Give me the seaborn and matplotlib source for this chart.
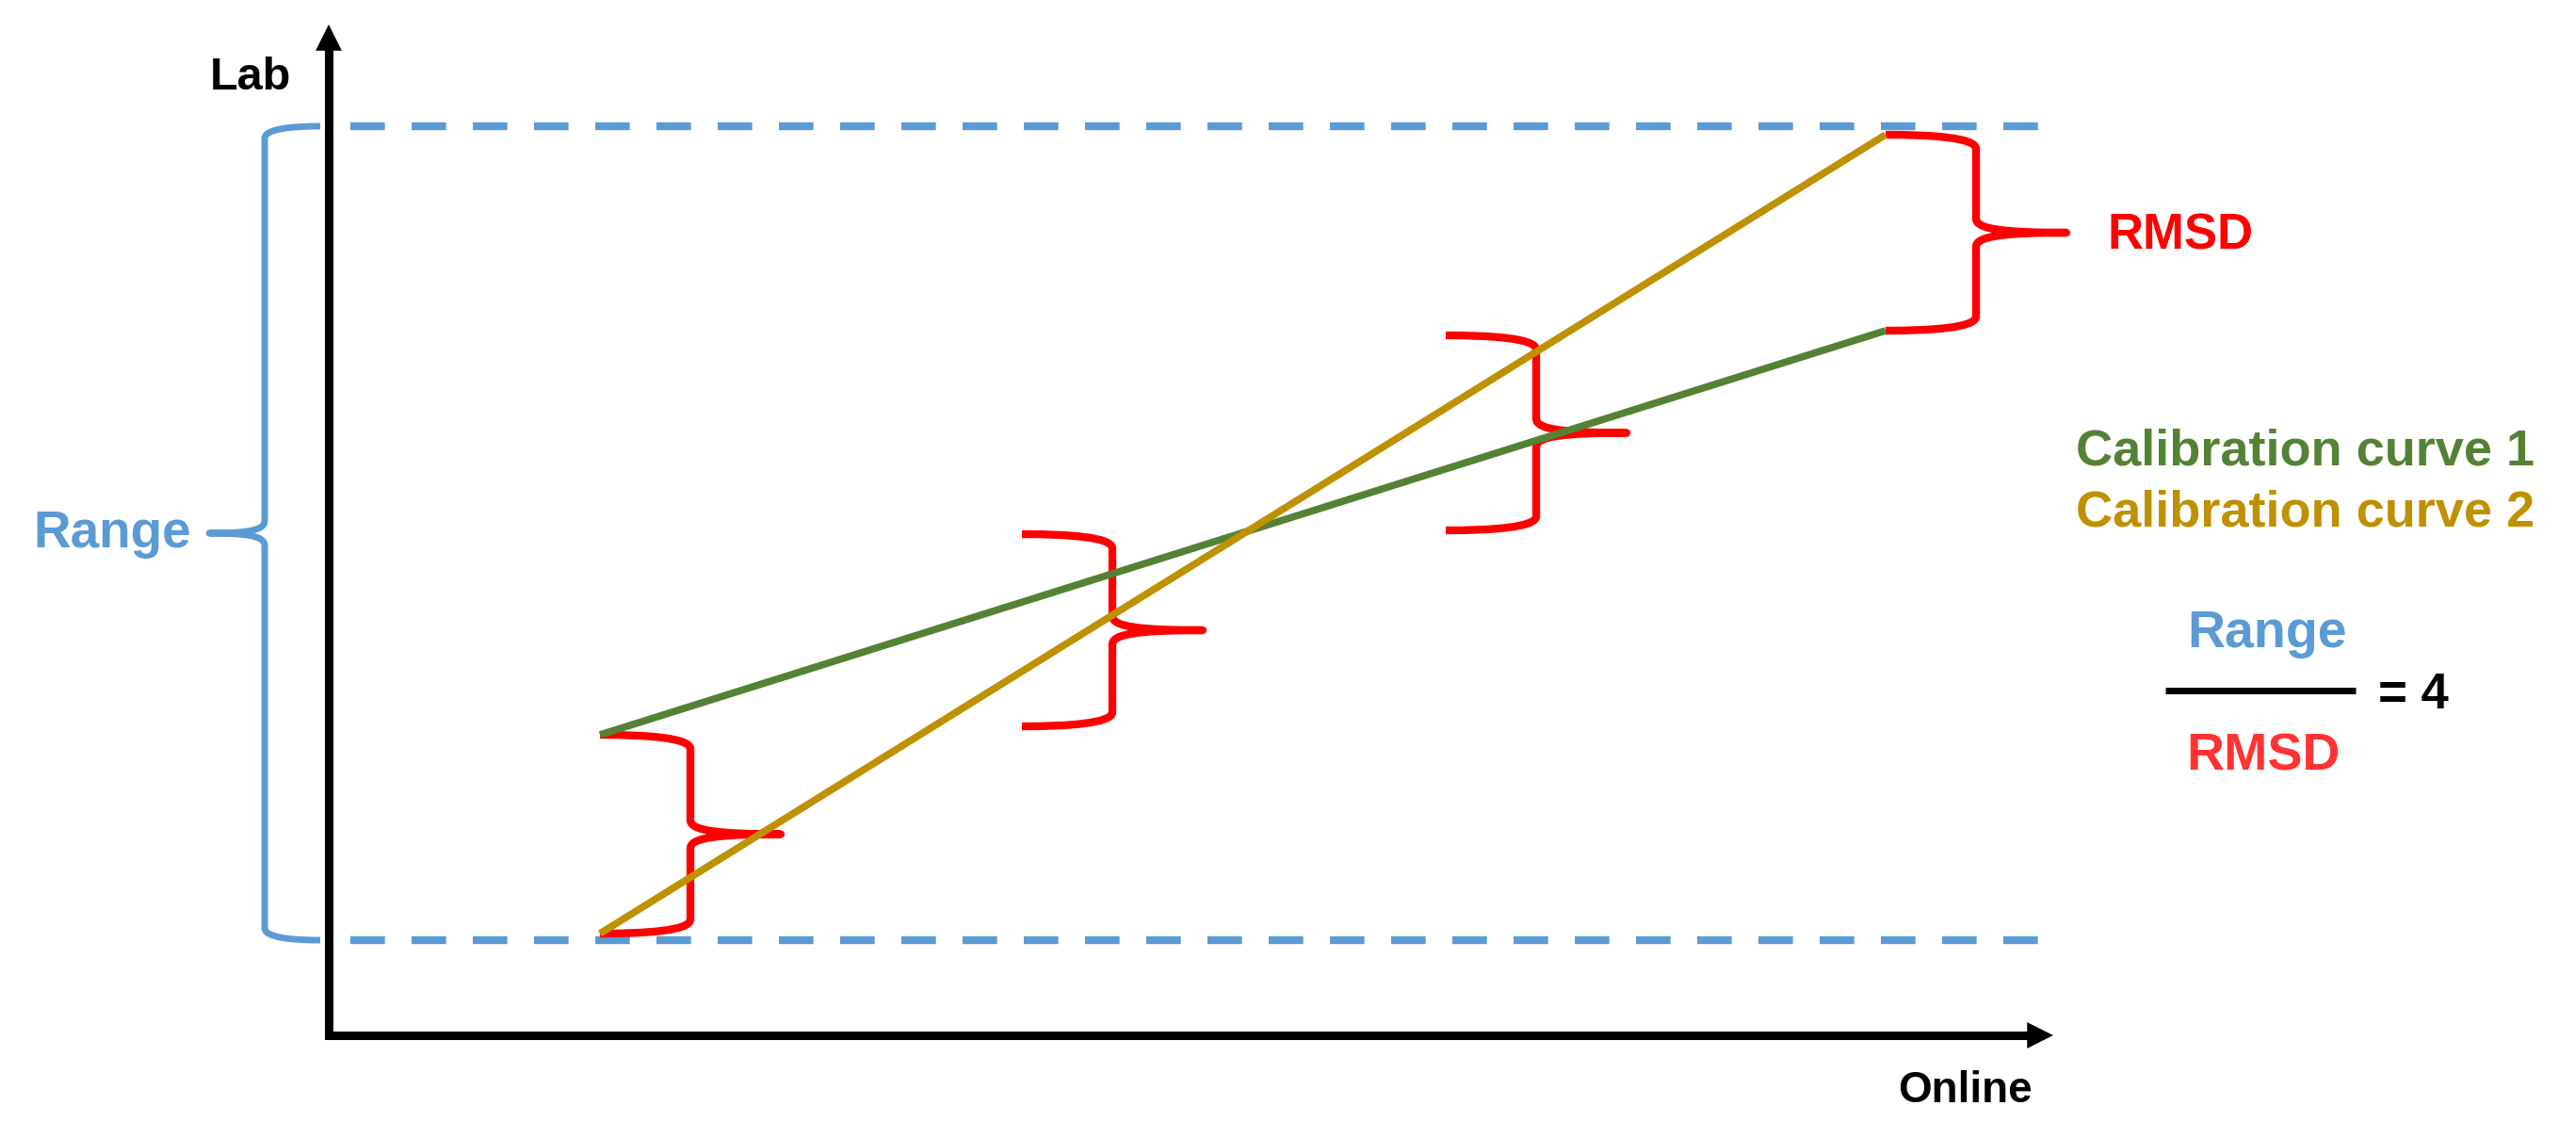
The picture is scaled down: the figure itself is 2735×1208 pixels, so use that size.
import pandas as pd
import matplotlib.pyplot as plt
from matplotlib.path import Path
from matplotlib.patches import PathPatch
import seaborn as sns

sns.set_theme(style="white")
plt.rcParams['font.family'] = ['Liberation Sans', 'DejaVu Sans']
plt.rcParams['text.color'] = 'black'

# diagram units: 1 unit ~ 100 px of the picture, origin at the corner of the axes
online = [2.88, 16.53]
curve1 = [3.19, 7.48]
curve2 = [1.08, 9.56]
range_low, range_high = 1.01, 9.65

# red braces (RMSD) between the curves
brace_x = [2.88, 7.36, 11.86, 16.53]
brace_lo = [1.08, 3.28, 5.36, 7.48]
brace_hi = [3.19, 5.32, 7.43, 9.56]

curve_names = ['Calibration curve 1', 'Calibration curve 2']
ratio = 4

GREEN, GOLD, BLUE, RED = '#548235', '#BF9000', '#5B9BD5', '#FF0000'

df = pd.DataFrame({
    'online': online + online,
    'lab': curve1 + curve2,
    'curve': [curve_names[0]] * 2 + [curve_names[1]] * 2,
})

fig = plt.figure(figsize=(27.35, 12.08), dpi=100)
ax = fig.add_axes([0, 0, 1, 1])
ax.set_xlim(-3.49, 23.86)
ax.set_ylim(-1.09, 10.99)
ax.axis('off')


def brace(x0, lo, hi, half_w, s, color, lw, r=0.15):
    # curly brace with tips at x0, pointing to side s (+1 right, -1 left)
    mid = (lo + hi) / 2
    xv = x0 + s * half_w
    xp = x0 + s * 2 * half_w
    verts = [
        (x0, hi), (x0 + s * 0.5 * half_w, hi), (xv, hi - 0.2 * r), (xv, hi - r),
        (xv, mid + r),
        (xv, mid + 0.25 * r), (x0 + s * 1.3 * half_w, mid), (xp, mid),
        (x0 + s * 1.3 * half_w, mid), (xv, mid - 0.25 * r), (xv, mid - r),
        (xv, lo + r),
        (xv, lo + 0.2 * r), (x0 + s * 0.5 * half_w, lo), (x0, lo),
    ]
    codes = [Path.MOVETO, Path.CURVE4, Path.CURVE4, Path.CURVE4,
             Path.LINETO,
             Path.CURVE4, Path.CURVE4, Path.CURVE4,
             Path.CURVE4, Path.CURVE4, Path.CURVE4,
             Path.LINETO,
             Path.CURVE4, Path.CURVE4, Path.CURVE4]
    ax.add_patch(PathPatch(Path(verts, codes), fill=False, edgecolor=color,
                           lw=lw, capstyle='butt', joinstyle='round', zorder=2))


# range lines + brace
for yv in [range_low, range_high]:
    ax.plot([0.23, 18.22], [yv, yv], color=BLUE, lw=6, ls=(0, (4.4, 3.4)),
            solid_capstyle='butt', zorder=1)
brace(-0.09, range_low, range_high, 0.59, -1, BLUE, 5, r=0.13)

for bx, lo, hi in zip(brace_x, brace_lo, brace_hi):
    brace(bx, lo, hi, 0.96, 1, RED, 6)

sns.lineplot(data=df, x='online', y='lab', hue='curve', palette=[GREEN, GOLD],
             linewidth=5.5, legend=False, ax=ax, zorder=3)
for ln in ax.get_lines()[-2:]:
    ln.set_solid_capstyle('butt')

# axes with arrows
ax.plot([0, 0, 18.05], [10.5, 0, 0], color='black', lw=6.5,
        solid_joinstyle='miter', solid_capstyle='butt', zorder=5)
head = dict(arrowstyle='-|>,head_length=1.0,head_width=0.5', mutation_scale=20,
            lw=0, color='black', shrinkA=0, shrinkB=0)
ax.annotate('', xy=(0, 10.73), xytext=(0, 10.2), arrowprops=head, zorder=6)
ax.annotate('', xy=(18.31, 0), xytext=(17.8, 0), arrowprops=head, zorder=6)

ax.text(-0.83, 10.04, 'Lab', ha='center', va='baseline', fontsize=35,
        fontweight='bold', color='black')
ax.text(17.37, -0.71, 'Online', ha='center', va='baseline', fontsize=33,
        fontweight='bold', color='black')
ax.text(-2.30, 5.18, 'Range', ha='center', va='baseline', fontsize=39.5,
        fontweight='bold', color=BLUE)
ax.text(19.66, 8.34, 'RMSD', ha='center', va='baseline', fontsize=38,
        fontweight='bold', color=RED)
ax.text(20.98, 6.06, curve_names[0], ha='center', va='baseline', fontsize=39,
        fontweight='bold', color=GREEN)
ax.text(20.98, 5.40, curve_names[1], ha='center', va='baseline', fontsize=39,
        fontweight='bold', color=GOLD)

# Range / RMSD = 4
ax.text(20.58, 4.12, 'Range', ha='center', va='baseline', fontsize=40,
        fontweight='bold', color=BLUE)
ax.plot([19.50, 21.52], [3.66, 3.66], color='black', lw=5, solid_capstyle='butt')
ax.text(20.54, 2.81, 'RMSD', ha='center', va='baseline', fontsize=40,
        fontweight='bold', color='#FF3333')
ax.text(22.13, 3.47, f'= {ratio}', ha='center', va='baseline', fontsize=38,
        fontweight='bold', color='black')

fig.savefig('out.png', dpi=100)
